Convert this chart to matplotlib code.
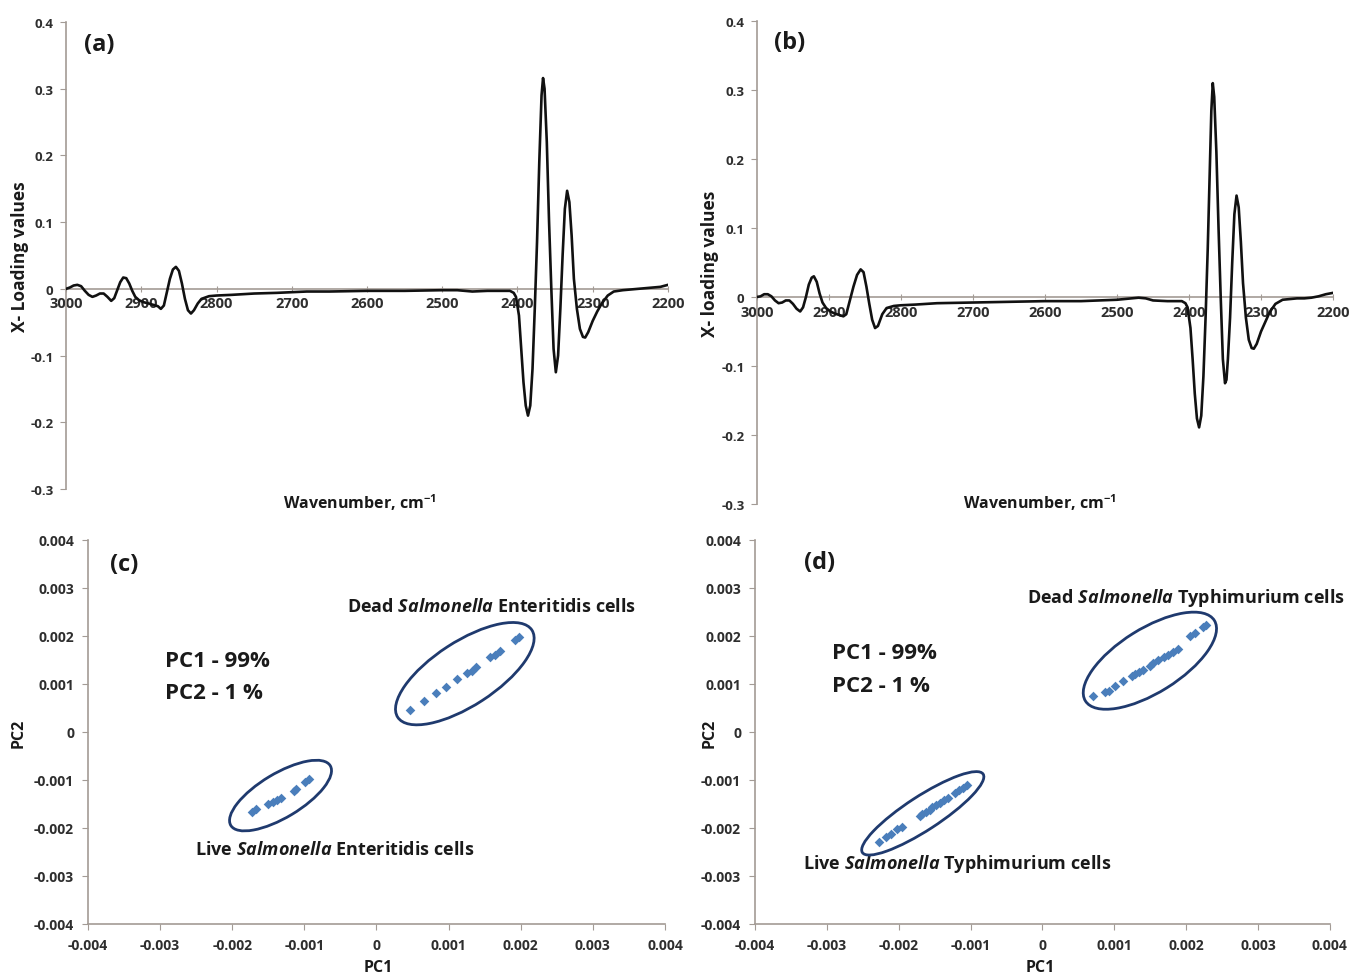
import matplotlib
matplotlib.use("Agg")
import matplotlib.pyplot as plt
import matplotlib.transforms as mtransforms
from matplotlib.patches import Ellipse

FONT = 'Open Sans'
plt.rcParams['font.family'] = [FONT, 'DejaVu Sans']
plt.rcParams['mathtext.fontset'] = 'custom'
plt.rcParams['mathtext.rm'] = FONT + ':bold'
plt.rcParams['mathtext.it'] = FONT + ':italic:bold'
plt.rcParams['mathtext.bf'] = FONT + ':bold'

# ---------------- data ----------------
# Panel (a): X-loading values, Salmonella Enteritidis
wn_a = [3000, 2995, 2990, 2985, 2980, 2975, 2970, 2965, 2960, 2955, 2950, 2945, 2940, 2936,
        2932, 2928, 2924, 2920, 2916, 2912, 2908, 2903, 2897, 2890, 2884, 2878, 2874, 2870,
        2866, 2862, 2858, 2854, 2850, 2846, 2842, 2838, 2834, 2830, 2825, 2820, 2810, 2800,
        2780, 2750, 2720, 2700, 2680, 2650, 2600, 2550, 2500, 2480, 2460, 2440, 2420, 2410,
        2405, 2402, 2398, 2395, 2392, 2389, 2386, 2383, 2380, 2377, 2374, 2371, 2368, 2366,
        2364, 2361, 2358, 2355, 2352, 2349, 2346, 2343, 2340, 2337, 2334, 2331, 2328, 2325,
        2321, 2317, 2313, 2310, 2306, 2300, 2294, 2288, 2280, 2272, 2260, 2240, 2220, 2210, 2200]
load_a = [0.000, 0.002, 0.005, 0.006, 0.004, -0.003, -0.009, -0.012, -0.010, -0.007, -0.007,
          -0.012, -0.018, -0.014, -0.002, 0.010, 0.017, 0.016, 0.008, -0.003, -0.012, -0.017,
          -0.020, -0.022, -0.024, -0.026, -0.030, -0.025, -0.005, 0.015, 0.029, 0.033, 0.027,
          0.008, -0.015, -0.032, -0.037, -0.032, -0.022, -0.015, -0.011, -0.010, -0.009,
          -0.007, -0.006, -0.005, -0.004, -0.004, -0.003, -0.003, -0.002, -0.002, -0.004,
          -0.003, -0.003, -0.003, -0.006, -0.012, -0.040, -0.090, -0.140, -0.175, -0.190,
          -0.175, -0.120, -0.030, 0.070, 0.190, 0.290, 0.316, 0.300, 0.220, 0.100, 0.000,
          -0.090, -0.125, -0.100, -0.030, 0.050, 0.120, 0.147, 0.130, 0.080, 0.015, -0.030,
          -0.060, -0.072, -0.073, -0.065, -0.048, -0.034, -0.022, -0.010, -0.004, -0.002,
          0.000, 0.002, 0.003, 0.006]

# Panel (b): X-loading values, Salmonella Typhimurium
wn_b = [3000, 2995, 2990, 2985, 2980, 2975, 2970, 2965, 2960, 2955, 2950, 2945, 2940, 2936,
        2932, 2928, 2924, 2921, 2917, 2913, 2909, 2904, 2898, 2892, 2886, 2880, 2876, 2871,
        2866, 2861, 2856, 2852, 2848, 2844, 2840, 2836, 2832, 2826, 2820, 2810, 2800, 2780,
        2750, 2700, 2650, 2600, 2550, 2500, 2470, 2460, 2450, 2430, 2410, 2405, 2402, 2398,
        2395, 2392, 2389, 2386, 2383, 2380, 2377, 2374, 2371, 2369, 2367, 2365, 2362, 2359,
        2356, 2353, 2350, 2348, 2346, 2343, 2340, 2337, 2334, 2331, 2328, 2325, 2321, 2317,
        2313, 2310, 2306, 2300, 2294, 2288, 2280, 2270, 2260, 2250, 2240, 2230, 2220, 2210, 2200]
load_b = [0.000, 0.001, 0.004, 0.004, 0.001, -0.005, -0.009, -0.008, -0.005, -0.005, -0.010,
          -0.017, -0.021, -0.015, 0.000, 0.018, 0.028, 0.030, 0.022, 0.005, -0.008, -0.016,
          -0.021, -0.024, -0.026, -0.028, -0.025, -0.005, 0.015, 0.032, 0.040, 0.036, 0.015,
          -0.010, -0.033, -0.045, -0.042, -0.025, -0.016, -0.013, -0.012, -0.011, -0.009,
          -0.008, -0.007, -0.006, -0.006, -0.004, -0.001, -0.002, -0.005, -0.006, -0.006,
          -0.009, -0.015, -0.045, -0.090, -0.140, -0.176, -0.189, -0.172, -0.115, -0.030,
          0.070, 0.190, 0.270, 0.310, 0.290, 0.210, 0.100, 0.000, -0.090, -0.125, -0.120,
          -0.090, -0.030, 0.050, 0.120, 0.147, 0.130, 0.080, 0.020, -0.030, -0.062, -0.074,
          -0.075, -0.068, -0.050, -0.036, -0.022, -0.010, -0.004, -0.003, -0.002, -0.002,
          -0.001, 0.001, 0.004, 0.006]

# Panel (c): PCA scores, Enteritidis
dead_c_pc1 = [0.00047, 0.00066, 0.00083, 0.00097, 0.00111, 0.00125, 0.00132, 0.00138,
              0.00157, 0.00164, 0.00171, 0.00192, 0.00198]
dead_c_pc2 = [0.00046, 0.00065, 0.00081, 0.00093, 0.00110, 0.00122, 0.00128, 0.00135,
              0.00156, 0.00161, 0.00169, 0.00192, 0.00197]
live_c_pc1 = [-0.00173, -0.00167, -0.00150, -0.00144, -0.00138, -0.00133, -0.00115,
              -0.00111, -0.00099, -0.00093]
live_c_pc2 = [-0.00167, -0.00161, -0.00150, -0.00145, -0.00141, -0.00138, -0.00124,
              -0.00119, -0.00104, -0.00098]

# Panel (d): PCA scores, Typhimurium
dead_d_pc1 = [0.00071, 0.00087, 0.00092, 0.00101, 0.00112, 0.00124, 0.00129, 0.00135,
              0.00140, 0.00149, 0.00154, 0.00161, 0.00169, 0.00175, 0.00182, 0.00189,
              0.00205, 0.00212, 0.00224, 0.00228]
dead_d_pc2 = [0.00074, 0.00084, 0.00086, 0.00095, 0.00107, 0.00117, 0.00121, 0.00126,
              0.00130, 0.00138, 0.00143, 0.00149, 0.00156, 0.00160, 0.00166, 0.00173,
              0.00201, 0.00206, 0.00218, 0.00223]
live_d_pc1 = [-0.00228, -0.00218, -0.00211, -0.00202, -0.00195, -0.00171, -0.00167,
              -0.00162, -0.00157, -0.00153, -0.00148, -0.00143, -0.00137, -0.00132,
              -0.00122, -0.00116, -0.00110, -0.00105]
live_d_pc2 = [-0.00229, -0.00218, -0.00212, -0.00203, -0.00197, -0.00175, -0.00171,
              -0.00166, -0.00162, -0.00157, -0.00153, -0.00148, -0.00142, -0.00138,
              -0.00128, -0.00121, -0.00116, -0.00110]

wn_ticks = [3000, 2900, 2800, 2700, 2600, 2500, 2400, 2300, 2200]
load_ticks = [-0.3, -0.2, -0.1, 0, 0.1, 0.2, 0.3, 0.4]
pc_ticks = [-0.004, -0.003, -0.002, -0.001, 0, 0.001, 0.002, 0.003, 0.004]

# ---------------- style ----------------
SPINE = '#a39b95'
TICKC = '#2e2e2e'
TXT = '#1a1a1a'
PT_C = '#4a7ebb'
RING = '#1f3a6e'

fig = plt.figure(figsize=(13.51, 9.79), dpi=100)
fig.patch.set_facecolor('white')


def fmt_num(v):
    if v == 0:
        return '0'
    return '%g' % v


def style_loading(ax, wn, val):
    ax.plot(wn, val, color='#111111', lw=1.9, solid_joinstyle='round', zorder=3)
    ax.set_xlim(3000, 2200)
    ax.set_ylim(-0.3, 0.4)
    for s in ['top', 'right']:
        ax.spines[s].set_visible(False)
    ax.spines['bottom'].set_position(('data', 0))
    ax.spines['bottom'].set_color(SPINE)
    ax.spines['left'].set_color(SPINE)
    ax.spines['bottom'].set_linewidth(1.2)
    ax.spines['left'].set_linewidth(1.2)
    ax.set_xticks(wn_ticks)
    ax.set_xticklabels([str(t) for t in wn_ticks], fontweight='bold')
    ax.set_yticks(load_ticks)
    ax.set_yticklabels([fmt_num(t) for t in load_ticks], fontweight='bold')
    ax.tick_params(axis='y', direction='out', length=4, color=SPINE, pad=5,
                   labelsize=9.5, labelcolor=TICKC)
    ax.tick_params(axis='x', direction='inout', length=5, color=SPINE, pad=3,
                   labelsize=10.5, labelcolor=TICKC)
    ax.set_facecolor('none')


def style_scores(ax):
    ax.set_xlim(-0.004, 0.004)
    ax.set_ylim(-0.004, 0.004)
    for s in ['top', 'right']:
        ax.spines[s].set_visible(False)
    for s in ['bottom', 'left']:
        ax.spines[s].set_color(SPINE)
        ax.spines[s].set_linewidth(1.2)
    ax.set_xticks(pc_ticks)
    ax.set_xticklabels([fmt_num(t) for t in pc_ticks], fontweight='bold')
    ax.set_yticks(pc_ticks)
    ax.set_yticklabels([fmt_num(t) for t in pc_ticks], fontweight='bold')
    ax.tick_params(axis='both', direction='out', length=4, color=SPINE, pad=6,
                   labelsize=10, labelcolor=TICKC)
    ax.set_facecolor('none')


def ring(ax, xs, ys, a_px, b_px, ang):
    cx = (min(xs) + max(xs)) / 2.0
    cy = (min(ys) + max(ys)) / 2.0
    tr = mtransforms.Affine2D().scale(fig.dpi / 100.0) + \
        mtransforms.ScaledTranslation(cx, cy, ax.transData)
    e = Ellipse((0, 0), 2 * a_px, 2 * b_px, angle=ang, transform=tr,
                fill=False, ec=RING, lw=2.0, zorder=4, clip_on=False)
    ax.add_artist(e)


# ---------------- panel (a) ----------------
ax_a = fig.add_axes([0.0489, 0.4995, 0.4455, 0.4770])
style_loading(ax_a, wn_a, load_a)
ax_a.text(0.055, 0.953, '(a)', transform=ax_a.transAxes, fontsize=17, fontweight='bold',
          color=TXT, ha='center', va='center')
ax_a.text(-0.077, 0.5, 'X- Loading values', transform=ax_a.transAxes, rotation=90,
          fontsize=12.5, fontweight='bold', color=TXT, ha='center', va='center')
ax_a.text(0.488, -0.028, r'Wavenumber, cm$^{\mathbf{-1}}$', transform=ax_a.transAxes,
          fontsize=11.5, fontweight='bold', color=TXT, ha='center', va='center')

# ---------------- panel (b) ----------------
ax_b = fig.add_axes([0.5603, 0.4842, 0.4264, 0.4933])
style_loading(ax_b, wn_b, load_b)
ax_b.text(0.057, 0.957, '(b)', transform=ax_b.transAxes, fontsize=17, fontweight='bold',
          color=TXT, ha='center', va='center')
ax_b.text(-0.082, 0.5, 'X- loading values', transform=ax_b.transAxes, rotation=90,
          fontsize=12.5, fontweight='bold', color=TXT, ha='center', va='center')
ax_b.text(0.491, 0.004, r'Wavenumber, cm$^{\mathbf{-1}}$', transform=ax_b.transAxes,
          fontsize=11.5, fontweight='bold', color=TXT, ha='center', va='center')

# ---------------- panel (c) ----------------
ax_c = fig.add_axes([0.0651, 0.0552, 0.4271, 0.3922])
style_scores(ax_c)
ax_c.scatter(dead_c_pc1, dead_c_pc2, marker='D', s=24, color=PT_C, lw=0, zorder=3)
ax_c.scatter(live_c_pc1, live_c_pc2, marker='D', s=24, color=PT_C, lw=0, zorder=3)
ring(ax_c, dead_c_pc1, dead_c_pc2, 80, 32, 33)
ring(ax_c, live_c_pc1, live_c_pc2, 58, 22, 31)
ax_c.text(0.062, 0.9375, '(c)', transform=ax_c.transAxes, fontsize=17, fontweight='bold',
          color=TXT, ha='center', va='center')
ax_c.text(0.133, 0.685, 'PC1 - 99%', transform=ax_c.transAxes, fontsize=16,
          fontweight='bold', color=TXT, ha='left', va='center')
ax_c.text(0.133, 0.602, 'PC2 - 1 %', transform=ax_c.transAxes, fontsize=16,
          fontweight='bold', color=TXT, ha='left', va='center')
ax_c.text(0.449, 0.828, r'Dead $\mathit{Salmonella}$ Enteritidis cells',
          transform=ax_c.transAxes, fontsize=13, fontweight='bold', color=TXT,
          ha='left', va='center')
ax_c.text(0.185, 0.195, r'Live $\mathit{Salmonella}$ Enteritidis cells',
          transform=ax_c.transAxes, fontsize=13, fontweight='bold', color=TXT,
          ha='left', va='center')
ax_c.text(-0.121, 0.5, 'PC2', transform=ax_c.transAxes, rotation=90, fontsize=11.5,
          fontweight='bold', color=TXT, ha='center', va='center')
ax_c.text(0.503, -0.112, 'PC1', transform=ax_c.transAxes, fontsize=11.5,
          fontweight='bold', color=TXT, ha='center', va='center')

# ---------------- panel (d) ----------------
ax_d = fig.add_axes([0.5588, 0.0552, 0.4256, 0.3922])
style_scores(ax_d)
ax_d.scatter(dead_d_pc1, dead_d_pc2, marker='D', s=24, color=PT_C, lw=0, zorder=3)
ax_d.scatter(live_d_pc1, live_d_pc2, marker='D', s=24, color=PT_C, lw=0, zorder=3)
ring(ax_d, dead_d_pc1, dead_d_pc2, 76, 32, 32)
ring(ax_d, live_d_pc1, live_d_pc2, 72, 17, 33)
ax_d.text(0.113, 0.943, '(d)', transform=ax_d.transAxes, fontsize=17, fontweight='bold',
          color=TXT, ha='center', va='center')
ax_d.text(0.134, 0.706, 'PC1 - 99%', transform=ax_d.transAxes, fontsize=16,
          fontweight='bold', color=TXT, ha='left', va='center')
ax_d.text(0.134, 0.622, 'PC2 - 1 %', transform=ax_d.transAxes, fontsize=16,
          fontweight='bold', color=TXT, ha='left', va='center')
ax_d.text(0.473, 0.852, r'Dead $\mathit{Salmonella}$ Typhimurium cells',
          transform=ax_d.transAxes, fontsize=13, fontweight='bold', color=TXT,
          ha='left', va='center', clip_on=False)
ax_d.text(0.083, 0.159, r'Live $\mathit{Salmonella}$ Typhimurium cells',
          transform=ax_d.transAxes, fontsize=13, fontweight='bold', color=TXT,
          ha='left', va='center')
ax_d.text(-0.078, 0.5, 'PC2', transform=ax_d.transAxes, rotation=90, fontsize=11.5,
          fontweight='bold', color=TXT, ha='center', va='center')
ax_d.text(0.496, -0.112, 'PC1', transform=ax_d.transAxes, fontsize=11.5,
          fontweight='bold', color=TXT, ha='center', va='center')

fig.savefig('out.png', dpi=100, facecolor='white')
